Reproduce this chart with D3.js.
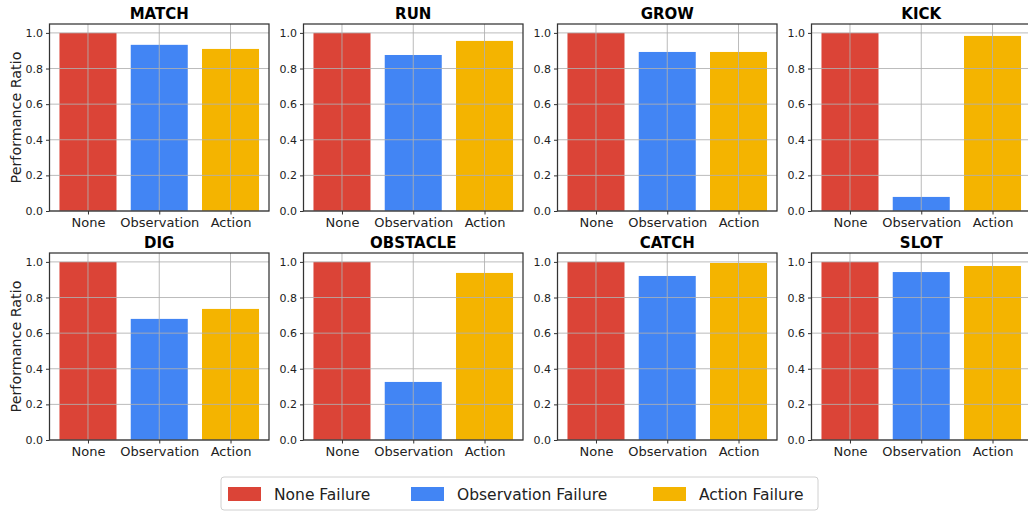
<!DOCTYPE html>
<html><head><meta charset="utf-8">
<script src="https://cdn.jsdelivr.net/npm/d3@7"></script>
<style>body{margin:0;background:#fff;} svg{display:block;font-family:"DejaVu Sans",sans-serif;}</style>
</head><body>
<div id="chart"></div>
<script>
const tasks = ["MATCH","RUN","GROW","KICK","DIG","OBSTACLE","CATCH","SLOT"];
const categories = ["None","Observation","Action"];
const noneValues = [1.0,1.0,1.0,1.0,1.0,1.0,1.0,1.0];
const observationValues = [0.933,0.876,0.893,0.079,0.680,0.326,0.921,0.943];
const actionValues = [0.910,0.955,0.893,0.983,0.736,0.938,0.994,0.977];
const yTicks = [0.0,0.2,0.4,0.6,0.8,1.0];
const legendLabels = ["None Failure","Observation Failure","Action Failure"];
const colors = ["#DB4437","#4285F4","#F4B400"];

const W = 1028, H = 511;
const svg = d3.select("#chart").append("svg").attr("width", W).attr("height", H);

const lefts = [49.5, 303.5, 557.5, 811.5];
const tops = [24, 253];
const pw = 219.5, ph = 187;

tasks.forEach((task, i) => {
  const col = i % 4, row = Math.floor(i / 4);
  const g = svg.append("g").attr("transform", `translate(${lefts[col]},${tops[row]})`);
  const x = d3.scaleLinear().domain([-0.54, 2.54]).range([0, pw]);
  const y = d3.scaleLinear().domain([0, 1.05]).range([ph, 0]);
  const vals = [noneValues[i], observationValues[i], actionValues[i]];

  g.selectAll("rect.bar").data(vals).join("rect")
    .attr("class","bar")
    .attr("x", (d, j) => x(j - 0.4))
    .attr("width", x(0.4) - x(-0.4))
    .attr("y", d => y(d))
    .attr("height", d => y(0) - y(d))
    .attr("fill", (d, j) => colors[j]);

  // grid
  g.selectAll("line.hg").data(yTicks).join("line")
    .attr("x1", 0).attr("x2", pw)
    .attr("y1", d => y(d)).attr("y2", d => y(d))
    .attr("stroke", "#b0b0b0").attr("stroke-width", 1).attr("opacity", 0.85);
  g.selectAll("line.vg").data(categories).join("line")
    .attr("x1", (d, j) => x(j)).attr("x2", (d, j) => x(j))
    .attr("y1", 0).attr("y2", ph)
    .attr("stroke", "#b0b0b0").attr("stroke-width", 1).attr("opacity", 0.85);

  // axes
  const xa = g.append("g").attr("transform", `translate(0,${ph})`)
    .call(d3.axisBottom(x).tickValues([0,1,2]).tickFormat(j => categories[j]).tickSize(3.5).tickPadding(3));
  xa.select(".domain").remove();
  xa.selectAll("text").attr("font-size", 13).attr("fill", "#222").attr("font-family","DejaVu Sans");
  xa.selectAll("line").attr("stroke", "#333");
  const ya = g.append("g")
    .call(d3.axisLeft(y).tickValues(yTicks).tickFormat(d3.format(".1f")).tickSize(3.5).tickPadding(3));
  ya.select(".domain").remove();
  ya.selectAll("text").attr("font-size", 11).attr("fill", "#222").attr("font-family","DejaVu Sans");
  ya.selectAll("line").attr("stroke", "#333");

  g.append("rect").attr("x", 0).attr("y", 0).attr("width", pw).attr("height", ph)
    .attr("fill", "none").attr("stroke", "#333").attr("stroke-width", 1.25);

  g.append("text").attr("x", pw / 2).attr("y", -5).attr("text-anchor", "middle")
    .attr("font-size", 15).attr("font-weight", "bold").attr("fill", "#000").text(task);

  if (col === 0) {
    g.append("text").attr("transform", `translate(${-28.5},${ph/2}) rotate(-90)`)
      .attr("text-anchor", "middle").attr("font-size", 14.3).attr("fill", "#222")
      .text("Performance Ratio");
  }
});

// legend
const lg = svg.append("g");
lg.append("rect").attr("x", 221).attr("y", 477).attr("width", 597).attr("height", 33)
  .attr("rx", 3).attr("fill", "#fff").attr("stroke", "#d0d0d0").attr("stroke-width", 1);
const legX = [228, 411, 653];
legendLabels.forEach((lab, k) => {
  lg.append("rect").attr("x", legX[k]).attr("y", 487).attr("width", 33).attr("height", 14).attr("fill", colors[k]);
  lg.append("text").attr("x", legX[k] + 46).attr("y", 499.5).attr("font-size", 15.5).attr("fill", "#222").text(lab);
});
</script>
</body></html>
